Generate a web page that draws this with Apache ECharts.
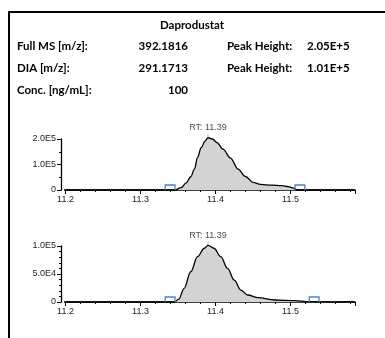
<!DOCTYPE html>
<html><head><meta charset="utf-8">
<script src="https://cdn.jsdelivr.net/npm/echarts@6/dist/echarts.min.js"></script>
<style>html,body{margin:0;padding:0;background:#fff}#c{width:385px;height:338px}</style>
</head><body><div id="c"></div>
<script>
// ---- data ----
const compound = 'Daprodustat';
const infoLabels = ['Full MS [m/z]:', 'DIA [m/z]:', 'Conc. [ng/mL]:'];
const infoValues = ['392.1816', '291.1713', '100'];
const peakLabels = ['Peak Height:', 'Peak Height:'];
const peakValues = ['2.05E+5', '1.01E+5'];
const rtLabel = 'RT: 11.39';
const rtValue = 11.39;

const times1 = [11.194, 11.346, 11.354, 11.361, 11.367, 11.372, 11.376, 11.381, 11.386, 11.39, 11.396, 11.402, 11.41, 11.42, 11.43, 11.44, 11.45, 11.46, 11.475, 11.488, 11.497, 11.504, 11.509, 11.585];
const inten1 = [0, 0, 9000, 28000, 52000, 82000, 128000, 166000, 192000, 205000, 200000, 186000, 160000, 125000, 82000, 53000, 30000, 22000, 19000, 17000, 13000, 7000, 0, 0];
const times2 = [11.194, 11.345, 11.351, 11.358, 11.367, 11.376, 11.385, 11.39, 11.398, 11.407, 11.416, 11.425, 11.434, 11.443, 11.457, 11.479, 11.506, 11.524, 11.585];
const inten2 = [0, 0, 5000, 24000, 54000, 81000, 96000, 101000, 96000, 81000, 60000, 39000, 21000, 12500, 7700, 3600, 2300, 500, 0];
const peak1 = 205000, peak2 = 101000;
const brackets1 = [[11.333, 11.346], [11.506, 11.519]];
const brackets2 = [[11.333, 11.346], [11.525, 11.538]];

const xTicks = [11.2, 11.3, 11.4, 11.5];
const xTickLabels = ['11.2', '11.3', '11.4', '11.5'];
const yTicks1 = [0, 100000, 200000];
const yTickLabels1 = ['0', '1.0E5', '2.0E5'];
const yTicks2 = [0, 50000, 100000];
const yTickLabels2 = ['0', '5.0E4', '1.0E5'];

// ---- chart ----
const chart = echarts.init(document.getElementById('c'), null, {renderer: 'canvas'});
const AX = '#000', LBL = '#222', FONT = 'Liberation Sans';
const headerFont = 'bold 11.5px Lato';

function lbl(ticks, labels) {
  return v => { for (let i = 0; i < ticks.length; i++) if (Math.abs(v - ticks[i]) < 1e-6 * Math.max(1, Math.abs(ticks[i]))) return labels[i]; return ''; };
}
function xAxesFor(grid) {
  return [
    {gridIndex: grid, type: 'value', position: 'bottom', min: 11.2, max: 11.586, interval: 0.02,
     axisLine: {show: true, lineStyle: {color: AX, width: 1.5}},
     axisTick: {show: true, length: 2, lineStyle: {color: AX, width: 1}},
     axisLabel: {show: true, formatter: lbl(xTicks, xTickLabels), fontFamily: FONT, fontSize: 9, color: LBL, margin: 5},
     splitLine: {show: false}},
    {gridIndex: grid, type: 'value', position: 'bottom', min: 11.2, max: 11.586, interval: 0.1,
     axisLine: {show: false}, axisTick: {show: true, length: 4, lineStyle: {color: AX, width: 1}},
     axisLabel: {show: false}, splitLine: {show: false}}
  ];
}
function yAxisFor(grid, max, interval, minorSplit, ticks, labels) {
  return {gridIndex: grid, type: 'value', min: 0, max: max, interval: interval, offset: 4.5,
    axisLine: {show: true, lineStyle: {color: AX, width: 1.3}},
    axisTick: {show: true, length: 4, lineStyle: {color: AX}},
    minorTick: {show: true, splitNumber: minorSplit, length: 2, lineStyle: {color: AX}},
    axisLabel: {formatter: lbl(ticks, labels), fontFamily: FONT, fontSize: 9, color: LBL, margin: 5},
    splitLine: {show: false}};
}
function traceSeries(xi, yi, times, inten) {
  return {type: 'line', xAxisIndex: xi, yAxisIndex: yi, data: times.map((t, i) => [t, inten[i]]),
    showSymbol: false, symbol: 'none', clip: false, smooth: 0.35, smoothMonotone: 'x',
    lineStyle: {color: '#000', width: 1.3}, areaStyle: {color: '#d3d3d3', opacity: 1}, z: 3};
}
function rtSeries(xi, yi, peak) {
  return {type: 'scatter', xAxisIndex: xi, yAxisIndex: yi, data: [[rtValue, peak]], clip: false,
    symbol: 'rect', symbolSize: [1, 3], symbolOffset: [0, -2], itemStyle: {color: '#7da7d9'},
    label: {show: true, position: 'top', distance: 2, formatter: rtLabel, fontFamily: FONT, fontSize: 9, color: '#222'},
    z: 5};
}
function bracketSeries(xi, yi, br) {
  return {type: 'custom', xAxisIndex: xi, yAxisIndex: yi, data: br, encode: {x: [0, 1]}, clip: false, z: 4,
    renderItem: (params, api) => {
      const a = api.coord([api.value(0), 0]);
      const b = api.coord([api.value(1), 0]);
      return {type: 'polyline', shape: {points: [[a[0], a[1]], [a[0], a[1] - 5], [b[0], b[1] - 5], [b[0], b[1]]]},
        style: {stroke: '#4f81bd', fill: null, lineWidth: 1.3}};
    }};
}

const graphics = [
  {type: 'polyline', shape: {points: [[9, 338], [9, 12], [385, 12]]}, style: {stroke: '#000', lineWidth: 2, fill: null}},
  {type: 'text', x: 192, y: 25, style: {text: compound, font: headerFont, textAlign: 'center', textVerticalAlign: 'middle', fill: '#000'}}
];
const rowY = [46, 68, 90];
infoLabels.forEach((t, i) => {
  graphics.push({type: 'text', x: 17, y: rowY[i], style: {text: t, font: headerFont, textAlign: 'left', textVerticalAlign: 'middle', fill: '#000'}});
  graphics.push({type: 'text', x: 188, y: rowY[i], style: {text: infoValues[i], font: headerFont, textAlign: 'right', textVerticalAlign: 'middle', fill: '#000'}});
});
peakLabels.forEach((t, i) => {
  graphics.push({type: 'text', x: 227, y: rowY[i], style: {text: t, font: headerFont, textAlign: 'left', textVerticalAlign: 'middle', fill: '#000'}});
  graphics.push({type: 'text', x: 307, y: rowY[i], style: {text: peakValues[i], font: headerFont, textAlign: 'left', textVerticalAlign: 'middle', fill: '#000'}});
});

chart.setOption({
  animation: false,
  backgroundColor: '#fff',
  graphic: graphics,
  grid: [
    {left: 65.5, right: 30, top: 139, height: 51, containLabel: false},
    {left: 65.5, right: 30, top: 246, height: 56, containLabel: false}
  ],
  xAxis: [...xAxesFor(0), ...xAxesFor(1)],
  yAxis: [
    yAxisFor(0, 200000, 100000, 2, yTicks1, yTickLabels1),
    yAxisFor(1, 100000, 50000, 5, yTicks2, yTickLabels2)
  ],
  series: [
    traceSeries(0, 0, times1, inten1),
    bracketSeries(0, 0, brackets1),
    rtSeries(0, 0, peak1),
    traceSeries(2, 1, times2, inten2),
    bracketSeries(2, 1, brackets2),
    rtSeries(2, 1, peak2)
  ]
});
</script></body></html>
